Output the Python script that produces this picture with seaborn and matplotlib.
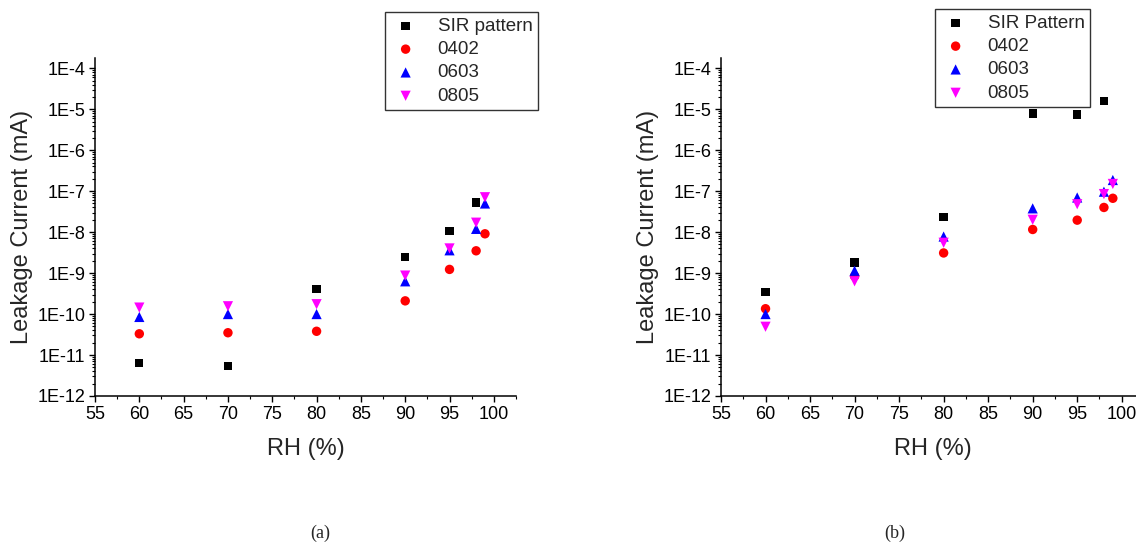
import numpy as np
import pandas as pd
import seaborn as sns
import matplotlib
matplotlib.use("Agg")
import matplotlib.pyplot as plt
from matplotlib.ticker import FixedLocator, LogLocator, FuncFormatter, NullFormatter

# ---------------- data ----------------
rh_sir = [60, 70, 80, 90, 95, 98]
rh_comp = [60, 70, 80, 90, 95, 98, 99]

# panel (a)
a_sir = [6.4e-12, 5.5e-12, 4.1e-10, 2.5e-9, 1.08e-8, 5.3e-8]
a_0402 = [3.3e-11, 3.5e-11, 3.8e-11, 2.1e-10, 1.23e-9, 3.5e-9, 9.1e-9]
a_0603 = [8.5e-11, 1.0e-10, 1.0e-10, 6.3e-10, 3.6e-9, 1.2e-8, 5.0e-8]
a_0805 = [1.44e-10, 1.55e-10, 1.74e-10, 8.7e-10, 4.0e-9, 1.7e-8, 7.1e-8]

# panel (b)
b_sir = [3.5e-10, 1.8e-9, 2.3e-8, 7.9e-6, 7.4e-6, 1.59e-5]
b_0402 = [1.35e-10, 8.4e-10, 3.1e-9, 1.16e-8, 1.96e-8, 4.0e-8, 6.7e-8]
b_0603 = [1.0e-10, 1.14e-9, 7.8e-9, 3.8e-8, 7.0e-8, 9.7e-8, 1.87e-7]
b_0805 = [4.9e-11, 6.3e-10, 5.5e-9, 2.0e-8, 4.8e-8, 8.5e-8, 1.5e-7]

x_ticks = [55, 60, 65, 70, 75, 80, 85, 90, 95, 100]
y_ticks = [1e-12, 1e-11, 1e-10, 1e-9, 1e-8, 1e-7, 1e-6, 1e-5, 1e-4]

x_label = "RH (%)"
y_label = "Leakage Current (mA)"
captions = ["(a)", "(b)"]
sir_names = ["SIR pattern", "SIR Pattern"]
comp_names = ["0402", "0603", "0805"]

# ---------------- style ----------------
sns.set_theme(style="ticks")
plt.rcParams["font.family"] = ["Liberation Sans", "DejaVu Sans"]

W, H = 1136, 547
fig = plt.figure(figsize=(W / 100, H / 100), dpi=100)

def fx(px):
    return px / W

def fy(py):
    return 1 - py / H

ax_top, ax_bot = 58, 396
axA = fig.add_axes([fx(95), fy(ax_bot), fx(421), fy(ax_top) - fy(ax_bot)])
axB = fig.add_axes([fx(721), fy(ax_bot), fx(423), fy(ax_top) - fy(ax_bot)])

styles = {
    "sir": dict(marker="s", color="#000000", s=36),
    "0402": dict(marker="o", color="#ff0000", s=46),
    "0603": dict(marker="^", color="#0000ff", s=54),
    "0805": dict(marker="v", color="#ff00ff", s=54),
}

panels = [
    (axA, a_sir, a_0402, a_0603, a_0805, sir_names[0], (385, 12)),
    (axB, b_sir, b_0402, b_0603, b_0805, sir_names[1], (935, 9)),
]

for ax, sir, c1, c2, c3, sname, legpos in panels:
    series = [(sname, rh_sir, sir, "sir")]
    for name, vals in zip(comp_names, [c1, c2, c3]):
        series.append((name, rh_comp, vals, name))
    for name, xs, ys, key in series:
        df = pd.DataFrame({"RH": xs, "I": ys})
        st = styles[key]
        sns.scatterplot(data=df, x="RH", y="I", ax=ax, marker=st["marker"],
                        color=st["color"], s=st["s"], edgecolor="none",
                        linewidth=0, label=name, zorder=3, clip_on=False)
    ax.set_yscale("log")
    ax.set_xlim(55, 102.5)
    ax.set_ylim(1e-12, 10 ** -3.75)
    ax.xaxis.set_major_locator(FixedLocator(x_ticks))
    ax.xaxis.set_minor_locator(FixedLocator([t + 2.5 for t in x_ticks]))
    ax.yaxis.set_major_locator(FixedLocator(y_ticks))
    ax.yaxis.set_minor_locator(LogLocator(base=10, subs=np.arange(2, 10), numticks=50))
    ax.yaxis.set_minor_formatter(NullFormatter())
    ax.yaxis.set_major_formatter(FuncFormatter(lambda v, p: "1E%d" % int(round(np.log10(v)))))
    ax.tick_params(axis="both", which="major", direction="out", length=4.5, width=1,
                   labelsize=13, color="black", labelcolor="black", pad=2.5)
    ax.tick_params(axis="both", which="minor", direction="out", length=2.5, width=0.8,
                   color="black")
    for side in ["top", "right"]:
        ax.spines[side].set_visible(False)
    for side in ["left", "bottom"]:
        ax.spines[side].set_linewidth(1.1)
        ax.spines[side].set_color("black")
    ax.set_xlabel(x_label, fontsize=17, labelpad=11)
    ax.set_ylabel(y_label, fontsize=17, labelpad=3)
    ax.grid(False)
    ax.set_facecolor("white")
    leg = ax.legend(loc="upper left", bbox_to_anchor=(fx(legpos[0]), fy(legpos[1])),
                    bbox_transform=fig.transFigure, borderaxespad=0, frameon=True,
                    fancybox=False, fontsize=13.5, handletextpad=0.9, handlelength=1.6,
                    labelspacing=0.33, borderpad=0.3, markerscale=1.0)
    leg.get_frame().set_edgecolor("#333333")
    leg.get_frame().set_linewidth(1.0)
    leg.get_frame().set_alpha(1)

fig.text(fx(320), fy(533), captions[0], fontsize=13, family="Liberation Serif",
         ha="center", va="center")
fig.text(fx(895), fy(533), captions[1], fontsize=13, family="Liberation Serif",
         ha="center", va="center")

fig.savefig("out.png", dpi=100, facecolor="white")
